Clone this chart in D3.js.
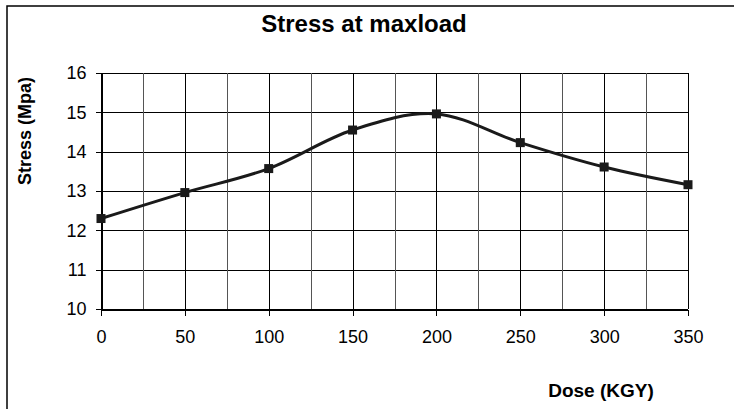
<!DOCTYPE html>
<html><head><meta charset="utf-8">
<script src="https://cdn.jsdelivr.net/npm/d3@7"></script>
<style>html,body{margin:0;padding:0;background:#fff;overflow:hidden}</style>
</head><body>
<svg id="c" width="734" height="409"></svg>
<script>
const doses = [0, 50, 100, 150, 200, 250, 300, 350];
const stress = [12.3, 12.96, 13.57, 14.55, 14.96, 14.23, 13.61, 13.16];
const yTicks = [10, 11, 12, 13, 14, 15, 16];
const xTicks = [0, 50, 100, 150, 200, 250, 300, 350];
const xMinorGrid = [25, 75, 125, 175, 225, 275, 325];
const titleText = "Stress at maxload";
const xTitle = "Dose (KGY)";
const yTitle = "Stress (Mpa)";

const svg = d3.select("#c");
const font = "'Liberation Sans', Arial, sans-serif";
const L = 101, R = 688, T = 73, B = 309;
const x = d3.scaleLinear().domain([0, 350]).range([L, R]);
const y = d3.scaleLinear().domain([10, 16]).range([B, T]);

// outer frame (only left and top visible)
svg.append("rect").attr("x", 7).attr("y", 6).attr("width", 760).attr("height", 440)
  .attr("fill", "none").attr("stroke", "#000").attr("stroke-width", 1.5);

// grid
const g = svg.append("g").attr("shape-rendering", "crispEdges");
g.selectAll(".hg").data(yTicks).join("line")
  .attr("x1", L).attr("x2", R).attr("y1", d => Math.round(y(d)) + 0.5).attr("y2", d => Math.round(y(d)) + 0.5)
  .attr("stroke", "#000").attr("stroke-width", 1);
g.selectAll(".vmg").data(xMinorGrid).join("line")
  .attr("y1", T).attr("y2", B).attr("x1", d => Math.round(x(d)) + 0.5).attr("x2", d => Math.round(x(d)) + 0.5)
  .attr("stroke", "#555").attr("stroke-width", 1);
g.selectAll(".vg").data(xTicks).join("line")
  .attr("y1", T).attr("y2", B).attr("x1", d => Math.round(x(d)) + 0.5).attr("x2", d => Math.round(x(d)) + 0.5)
  .attr("stroke", "#000").attr("stroke-width", 1);

// axes
const xAxis = d3.axisBottom(x).tickValues(xTicks).tickFormat(d3.format("d")).tickSize(6).tickPadding(15).tickSizeOuter(0);
const yAxis = d3.axisLeft(y).tickValues(yTicks).tickFormat(d3.format("d")).tickSize(6).tickPadding(9).tickSizeOuter(0);
const gx = svg.append("g").attr("transform", `translate(0,${Math.round(B)+0.5})`).call(xAxis);
const gy = svg.append("g").attr("transform", `translate(${Math.round(L)+0.5},0)`).call(yAxis);
[gx, gy].forEach(a => {
  a.selectAll("path,line").attr("stroke", "#000").attr("shape-rendering", "crispEdges");
  a.selectAll("text").attr("fill", "#000").style("font-family", font).style("font-size", "18px");
});

// line
const line = d3.line().x((d, i) => x(doses[i])).y(d => y(d)).curve(d3.curveCatmullRom.alpha(0));
svg.append("path").datum(stress).attr("d", line)
  .attr("fill", "none").attr("stroke", "#1a1a1a").attr("stroke-width", 3);
const ms = 9;
svg.selectAll(".m").data(stress).join("rect")
  .attr("x", (d, i) => x(doses[i]) - ms / 2).attr("y", d => y(d) - ms / 2)
  .attr("width", ms).attr("height", ms).attr("fill", "#1a1a1a");

// titles
svg.append("text").attr("x", 364).attr("y", 32).attr("text-anchor", "middle")
  .style("font-family", font).style("font-weight", "bold").style("font-size", "24px").text(titleText);
svg.append("text").attr("x", 601).attr("y", 397).attr("text-anchor", "middle")
  .style("font-family", font).style("font-weight", "bold").style("font-size", "19px").text(xTitle);
svg.append("text").attr("transform", "translate(31,131) rotate(-90)").attr("text-anchor", "middle")
  .style("font-family", font).style("font-weight", "bold").style("font-size", "18px").text(yTitle);
</script>
</body></html>
